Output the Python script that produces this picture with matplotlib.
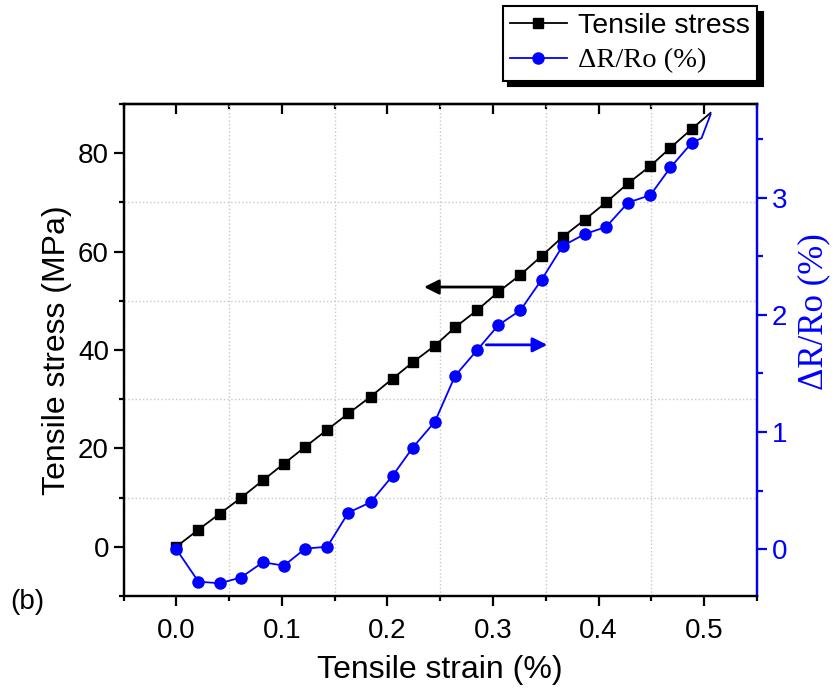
import matplotlib
matplotlib.use("Agg")
import matplotlib.pyplot as plt
from matplotlib.ticker import MultipleLocator

plt.rcParams["font.family"] = ["Liberation Sans", "DejaVu Sans"]

# strain (%) at each measured point; last value is the end of the curve (no marker)
strain = [0.0, 0.021, 0.041, 0.061, 0.082, 0.102, 0.122, 0.143, 0.163, 0.184,
          0.205, 0.224, 0.245, 0.264, 0.285, 0.305, 0.326, 0.346, 0.366, 0.387,
          0.407, 0.428, 0.449, 0.468, 0.488, 0.506]
stress = [0.0, 3.5, 6.7, 9.9, 13.5, 16.9, 20.3, 23.8, 27.1, 30.5,
          34.2, 37.5, 40.9, 44.6, 48.1, 51.8, 55.3, 59.1, 63.0, 66.5,
          70.0, 73.9, 77.4, 81.1, 84.9, 88.2]

strain_r = strain[:25] + [0.4975, 0.506]
dR = [0.0, -0.278, -0.291, -0.243, -0.112, -0.141, 0.004, 0.021, 0.312, 0.40,
      0.628, 0.867, 1.089, 1.479, 1.70, 1.912, 2.04, 2.30, 2.589, 2.69,
      2.75, 2.959, 3.022, 3.258, 3.466, 3.509, 3.71]

blue = "#0000FF"

fig = plt.figure(figsize=(8.38, 6.97), dpi=100)
ax = fig.add_axes([123.5 / 838, 1 - 596 / 697, (757 - 123.5) / 838, (596 - 104) / 697])
ax2 = ax.twinx()

l1, = ax.plot(strain, stress, color="black", lw=1.3, marker="s", ms=6.5,
              markevery=slice(0, 25), label="Tensile stress")
l2, = ax2.plot(strain_r, dR, color=blue, lw=1.3, marker="o", ms=8,
               markevery=slice(0, 25), label="ΔR/Ro (%)")

ax.set_xlim(-0.05, 0.55)
ax.set_ylim(-10, 90)
ax2.set_ylim(-0.4, 3.8)

ax.xaxis.set_major_locator(MultipleLocator(0.1))
ax.xaxis.set_minor_locator(MultipleLocator(0.05))
ax.yaxis.set_major_locator(MultipleLocator(20))
ax.yaxis.set_minor_locator(MultipleLocator(10))
ax2.yaxis.set_major_locator(MultipleLocator(1))
ax2.yaxis.set_minor_locator(MultipleLocator(0.5))

ax.grid(which="minor", color="#c8c8c8", ls=":", lw=1)
ax.grid(which="major", visible=False)

for s in ax.spines.values():
    s.set_linewidth(1.6)
for s in ax2.spines.values():
    s.set_linewidth(1.6)
ax2.spines["right"].set_color(blue)

ax.tick_params(axis="both", which="major", direction="out", length=7, width=1.6, labelsize=20)
ax.tick_params(axis="both", which="minor", direction="out", length=3.5, width=1.6)
ax.tick_params(axis="x", pad=9)
ax2.tick_params(axis="y", which="major", direction="out", length=7, width=1.6,
                colors=blue, labelsize=20)
ax2.tick_params(axis="y", which="minor", direction="out", length=4, width=1.6, colors=blue)

# top axis with inward ticks
top = ax.secondary_xaxis("top")
top.xaxis.set_major_locator(MultipleLocator(0.1))
top.xaxis.set_minor_locator(MultipleLocator(0.05))
top.tick_params(which="major", direction="in", length=7, width=1.6, labeltop=False)
top.tick_params(which="minor", direction="in", length=3.5, width=1.6)
top.spines["top"].set_linewidth(1.6)

ax.set_xlabel("Tensile strain (%)", fontsize=23)
ax.xaxis.set_label_coords(0.5, -0.12)
ax.set_ylabel("Tensile stress (MPa)", fontsize=23)
ax.yaxis.set_label_coords(-0.082, 0.5)
ax2.set_ylabel("ΔR/Ro (%)", fontsize=25, color=blue, family="Liberation Serif")
ax2.yaxis.set_label_coords(1.063, 0.577)

# direction arrows
ax.annotate("", xy=(0.232, 52.8), xytext=(0.312, 52.8),
            arrowprops=dict(arrowstyle="-|>", color="black", lw=2, mutation_scale=22))
ax2.annotate("", xy=(0.354, 1.744), xytext=(0.291, 1.744),
             arrowprops=dict(arrowstyle="-|>", color=blue, lw=2, mutation_scale=22))

leg = fig.legend([l1, l2], ["Tensile stress", "ΔR/Ro (%)"], loc="upper right",
                 bbox_to_anchor=(757 / 838, 1 - 6 / 697), fontsize=20.5,
                 fancybox=False, edgecolor="black", framealpha=1,
                 shadow={"ox": 4, "oy": -4, "color": "black", "alpha": 1},
                 borderaxespad=0, handlelength=2.0, handletextpad=0.4,
                 borderpad=0.25, labelspacing=0.3)
leg.get_frame().set_linewidth(1.5)
leg.get_texts()[1].set_fontfamily("Liberation Serif")

fig.text(0.012, 1 - 602 / 697, "(b)", fontsize=20, va="center")

fig.savefig("out.png", dpi=100)
